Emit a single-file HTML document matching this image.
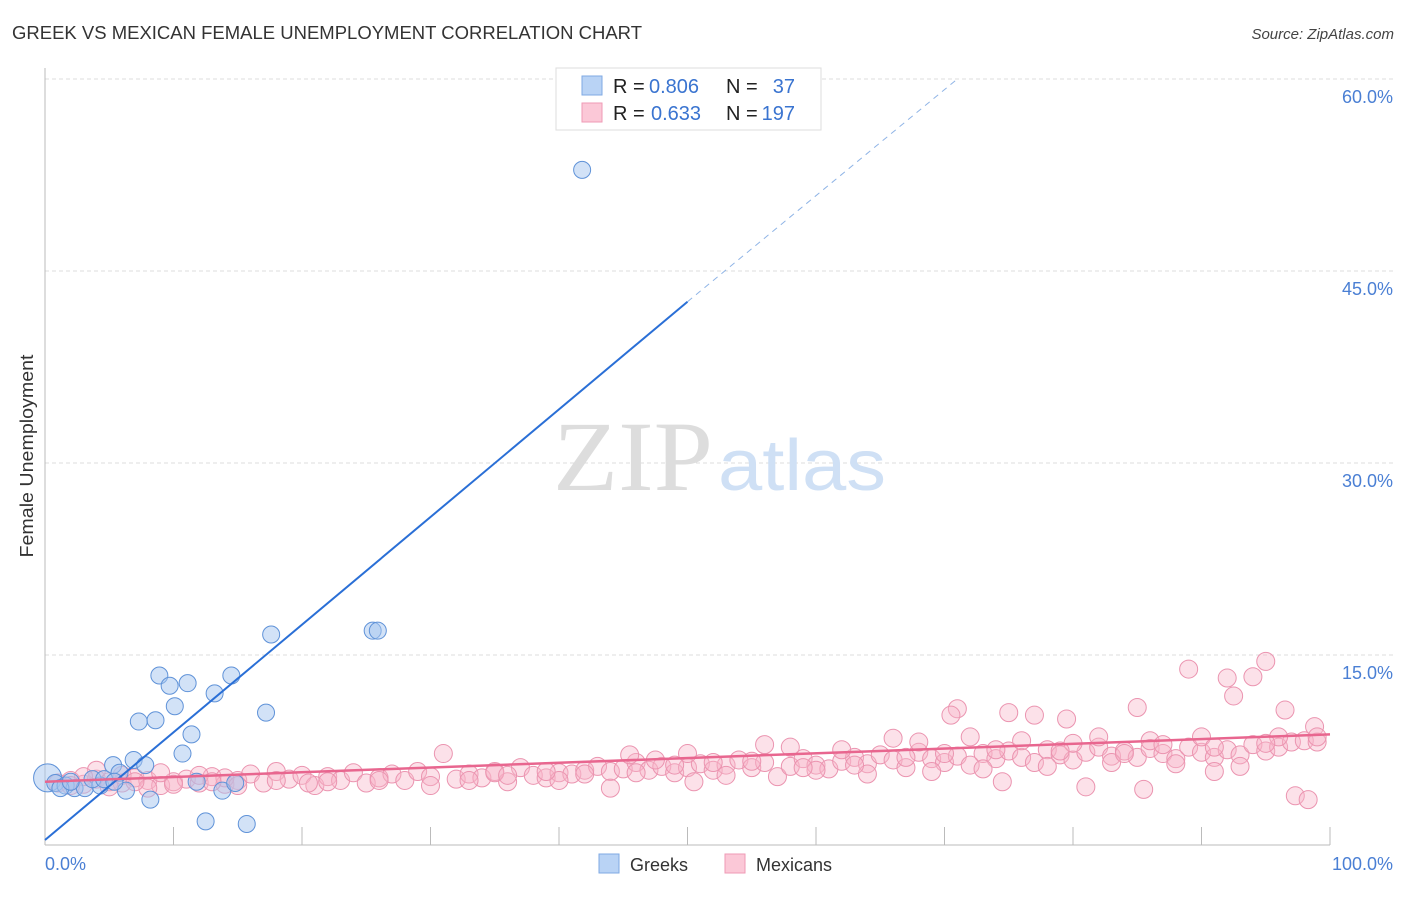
<!DOCTYPE html>
<html><head><meta charset="utf-8"><style>
body{margin:0;background:#fff;font-family:"Liberation Sans",sans-serif}
</style></head><body>
<svg id="chart" width="1406" height="892" xmlns="http://www.w3.org/2000/svg" font-family="Liberation Sans, sans-serif">
<text x="12" y="39" font-size="18" fill="#333" textLength="630" lengthAdjust="spacingAndGlyphs">GREEK VS MEXICAN FEMALE UNEMPLOYMENT CORRELATION CHART</text>
<text x="1394" y="39" font-size="15" fill="#444" text-anchor="end" font-style="italic">Source: ZipAtlas.com</text>
<g id="grid"></g>
<g><text x="553" y="490" font-size="100" fill="#ddd" font-family="Liberation Serif, serif" textLength="160" lengthAdjust="spacingAndGlyphs">ZIP</text><text x="718" y="490" font-size="72" fill="#cfe0f5" textLength="168" lengthAdjust="spacingAndGlyphs">atlas</text></g>
<line x1="45" y1="68" x2="45" y2="845" stroke="#bbb"/>
<line x1="45" y1="845" x2="1330" y2="845" stroke="#bbb"/>
<g id="ticks"></g>
<g id="pink"></g><g id="blue"></g><g id="lines"></g>
<text transform="translate(33,456) rotate(-90)" font-size="18" fill="#333" text-anchor="middle" textLength="203" lengthAdjust="spacingAndGlyphs">Female Unemployment</text>
<text x="45" y="870" font-size="18" fill="#4a7fd4">0.0%</text>
<text x="1393" y="870" font-size="18" fill="#4a7fd4" text-anchor="end">100.0%</text>
<g>
<rect x="556" y="68" width="265" height="62" fill="#fff" stroke="#ddd"/>
<rect x="582" y="76" width="20" height="19" fill="#b9d3f5" stroke="#7fa9e3"/>
<rect x="582" y="103" width="20" height="19" fill="#fbc8d7" stroke="#ef9ab5"/>
<text x="613" y="93" font-size="20" fill="#222">R =</text>
<text x="649" y="93" font-size="20" fill="#3a74d0">0.806</text>
<text x="726" y="93" font-size="20" fill="#222">N =</text>
<text x="795" y="93" font-size="20" fill="#3a74d0" text-anchor="end">37</text>
<text x="613" y="120" font-size="20" fill="#222">R =</text>
<text x="651" y="120" font-size="20" fill="#3a74d0">0.633</text>
<text x="726" y="120" font-size="20" fill="#222">N =</text>
<text x="795" y="120" font-size="20" fill="#3a74d0" text-anchor="end">197</text>
</g>
<g>
<rect x="599" y="854" width="20" height="19" fill="#b9d3f5" stroke="#7fa9e3"/>
<text x="630" y="871" font-size="18" fill="#333">Greeks</text>
<rect x="725" y="854" width="20" height="19" fill="#fbc8d7" stroke="#ef9ab5"/>
<text x="756" y="871" font-size="18" fill="#333">Mexicans</text>
</g>
</svg>
<script>
const yTicks=[15,30,45,60];
const yTickLabels=["15.0%","30.0%","45.0%","60.0%"];
const xTicks=[10,20,30,40,50,60,70,80,90,100];
const greeks=[[0.2,5.4],[0.8,5.0],[1.6,4.8],[2.3,4.6],[3.1,4.6],[4.3,4.8],[3.7,5.3],[5.3,6.4],[5.8,5.8],[6.9,6.8],[7.8,6.4],[6.3,4.4],[8.2,3.7],[8.9,13.4],[9.7,12.6],[11.1,12.8],[10.1,11.0],[7.3,9.8],[8.6,9.9],[10.7,7.3],[11.4,8.8],[13.2,12.0],[14.5,13.4],[11.8,5.1],[13.8,4.4],[12.5,2.0],[15.7,1.8],[14.8,5.0],[17.2,10.5],[17.6,16.6],[25.5,16.9],[25.9,16.9],[41.8,52.9],[4.6,5.3],[5.4,5.1],[1.2,4.6],[2.0,5.1]];
const mexicans=[[1,5.0],[2,5.2],[3,4.9],[4,5.3],[5,5.1],[6,5.0],[7,5.4],[8,5.2],[9,4.8],[10,5.1],[11,5.3],[12,5.0],[13,5.5],[14,4.9],[15,5.2],[4,6.0],[6,5.6],[9,5.8],[3,5.5],[8,4.6],[12,5.6],[14,5.4],[16,5.7],[17,5.0],[18,5.9],[19,5.3],[20,5.6],[21,4.8],[22,5.5],[23,5.2],[24,5.8],[25,5.0],[26,5.4],[27,5.7],[28,5.2],[29,5.9],[30,5.5],[31,7.3],[32,5.3],[33,5.7],[34,5.4],[35,5.9],[36,5.1],[37,6.2],[38,5.6],[39,5.4],[40,5.8],[41,5.7],[42,6.0],[43,6.3],[44,5.9],[45,6.1],[46,6.6],[47,6.0],[48,6.3],[49,5.8],[50,6.2],[51,6.5],[52,6.0],[53,6.4],[54,6.8],[55,6.2],[56,6.6],[57,5.5],[58,6.3],[59,6.9],[60,6.4],[61,6.1],[62,6.7],[63,7.0],[64,6.5],[65,7.2],[66,6.8],[67,6.2],[68,7.4],[69,6.9],[70,6.6],[71,7.1],[72,6.4],[73,7.3],[74,6.9],[75,7.5],[76,7.0],[77,6.6],[78,7.6],[79,7.2],[80,6.8],[81,7.4],[82,7.8],[83,7.1],[84,7.5],[85,7.0],[86,7.7],[87,7.3],[88,6.9],[89,7.8],[90,7.4],[91,7.0],[92,7.6],[93,7.2],[94,8.0],[95,7.5],[96,7.8],[97,8.2],[98,8.3],[99,8.2],[71,10.8],[70.5,10.3],[75,10.5],[77,10.3],[79.5,10.0],[85,10.9],[89,13.9],[95,14.5],[92,13.2],[94,13.3],[92.5,11.8],[96.5,10.7],[98.8,9.4],[97.3,4.0],[98.3,3.7],[85.5,4.5],[81,4.7],[74.5,5.1],[20.5,5.0],[50.5,5.1],[35,5.8],[60,6.0],[64,5.7],[69,5.9],[73,6.1],[78,6.3],[83,6.6],[88,6.5],[93,6.3],[91,5.9],[58,7.8],[45.5,7.2],[50,7.3],[56,8.0],[62,7.6],[66,8.5],[68,8.2],[72,8.6],[76,8.3],[80,8.1],[82,8.6],[86,8.3],[90,8.6],[96,8.6],[44,4.6],[30,4.8],[40,5.2],[53,5.6],[47.5,6.8],[2,4.8],[5,4.7],[7,5.1],[10,4.9],[13,5.1],[15,4.8],[18,5.2],[22,5.1],[26,5.2],[33,5.2],[36,5.6],[39,5.9],[42,5.7],[46,5.8],[49,6.4],[52,6.6],[55,6.7],[59,6.2],[63,6.4],[67,7.0],[70,7.3],[74,7.6],[79,7.5],[84,7.3],[87,8.0],[91,7.8],[95,8.1],[99,8.6]];
const blueFit=[[0,0.55],[50,42.6]];
const blueDash=[[50,42.6],[71,60]];
const pinkFit=[[0,5.1],[100,8.8]];
const NS='http://www.w3.org/2000/svg';
const sx=v=>45+v*12.85, sy=v=>847-v*12.8;
function mk(p,t,a){const e=document.createElementNS(NS,t);for(const k in a)e.setAttribute(k,a[k]);p.appendChild(e);return e;}
const grid=document.getElementById('grid');
yTicks.forEach((t,i)=>{
 const l=mk(grid,'line',{x1:45,x2:1394,y1:sy(t),y2:sy(t),stroke:'#ddd','stroke-dasharray':'4 3'});
 
 
 const tx=mk(grid,'text',{x:1393,y:sy(t)+24,'font-size':18,fill:'#4a7fd4','text-anchor':'end'});
 tx.textContent=yTickLabels[i];
 
 
});
const tk=document.getElementById('ticks');
xTicks.forEach(t=>{
 const l=mk(tk,'line',{x1:sx(t),x2:sx(t),y1:827,y2:845,stroke:'#bbb'});
 
 
});
const pg=document.getElementById('pink');
mexicans.forEach(d=>{
 const c=mk(pg,'circle',{cx:sx(d[0]),cy:sy(d[1]),r:9,fill:'rgba(248,180,200,0.4)',stroke:'#eb94b0','stroke-width':1});
 
 
});
const bg=document.getElementById('blue');
greeks.forEach((d,i)=>{
 const c=mk(bg,'circle',{cx:sx(d[0]),cy:sy(d[1]),r:i==0?14:8.5,fill:'rgba(165,198,240,0.5)',stroke:'#5f92d8','stroke-width':1});
 
 
});
const lg=document.getElementById('lines');
let l1=mk(lg,'line',{x1:sx(blueFit[0][0]),y1:sy(blueFit[0][1]),x2:sx(blueFit[1][0]),y2:sy(blueFit[1][1]),stroke:'#2a6fd6','stroke-width':2});


let l2=mk(lg,'line',{x1:sx(blueDash[0][0]),y1:sy(blueDash[0][1]),x2:sx(blueDash[1][0]),y2:sy(blueDash[1][1]),stroke:'#8fb4e6','stroke-width':1,'stroke-dasharray':'6 5'});


let l3=mk(lg,'line',{x1:sx(pinkFit[0][0]),y1:sy(pinkFit[0][1]),x2:sx(pinkFit[1][0]),y2:sy(pinkFit[1][1]),stroke:'#e8668f','stroke-width':2.5});


</script>
</body></html>
